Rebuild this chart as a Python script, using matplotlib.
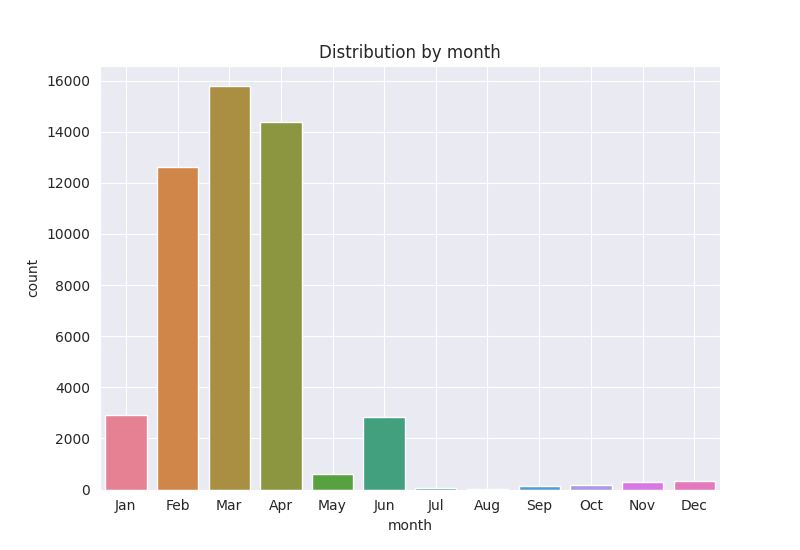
import matplotlib
matplotlib.use("Agg")
import matplotlib.pyplot as plt
import seaborn as sns

months = ["Jan", "Feb", "Mar", "Apr", "May", "Jun", "Jul", "Aug", "Sep", "Oct", "Nov", "Dec"]
counts = [2900, 12620, 15780, 14380, 620, 2820, 40, 30, 150, 180, 290, 330]

sns.set_style("darkgrid")
fig, ax = plt.subplots(figsize=(8, 5.5), dpi=100)

# old seaborn countplot look: husl palette, desaturated
colors = [sns.desaturate(c, 0.75) for c in sns.color_palette("husl", 12)]
ax.bar(range(len(months)), counts, width=0.8, color=colors)
ax.set_xticks(range(len(months)))
ax.set_xticklabels(months)
ax.set_xlim(-0.5, len(months) - 0.5)
ax.set_ylim(0, 16569)
ax.set_xlabel("month")
ax.set_ylabel("count")
ax.set_title("Distribution by month")

plt.savefig("out.png", dpi=100)
